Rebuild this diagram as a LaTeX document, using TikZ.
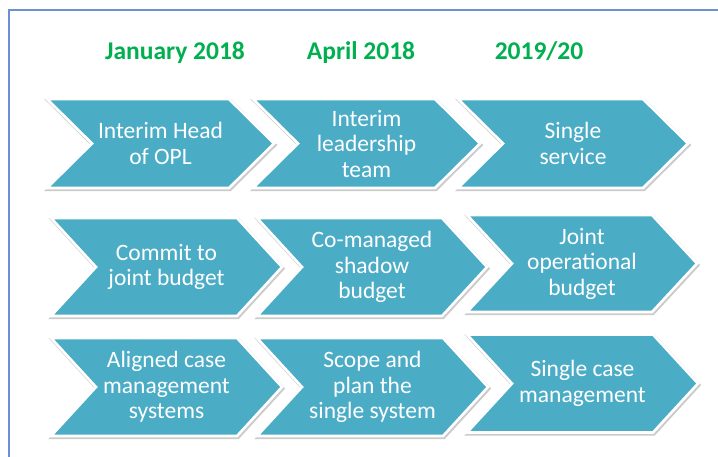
\documentclass[tikz,border=0pt]{standalone}
\usepackage{fontspec}
\newfontfamily\calfont{Carlito}
\definecolor{chevblue}{HTML}{4BACC6}
\definecolor{yeargreen}{HTML}{00B050}
\definecolor{framebl}{HTML}{6C91D2}
\tikzset{
  chevbox/.style={fill=chevblue, draw=white, line width=2.6pt, line join=miter},
  chevshadow/.style={draw=black!45, line width=3.2pt, opacity=0.45, line join=miter},
  chevtext/.style={text=white, align=center, inner sep=0pt,
    font=\calfont\fontsize{23.5}{25.5}\selectfont},
  yeartext/.style={text=yeargreen, inner sep=0pt, anchor=base,
    font=\calfont\bfseries\fontsize{25.5}{28}\selectfont}
}
% name, left x, middle y, width, half height, text
\newcommand{\chev}[6]{
\draw[chevshadow] (#2+1,#3-#5+1.5) -- ++(#4-45,0) -- ++(45,#5) -- ++(-45,#5)
  -- ++(-#4+45,0) -- ++(45,-#5) -- cycle;
\draw[chevbox] (#2,#3-#5) -- ++(#4-45,0) -- ++(45,#5) -- ++(-45,#5)
  -- ++(-#4+45,0) -- ++(45,-#5) -- cycle;
\node[chevtext] (#1) at (#2+#4/2,#3) {#6};
}

\begin{document}
\begin{tikzpicture}[x=1pt,y=-1pt]
\useasboundingbox[fill=white] (0,0) rectangle (718,456);
\draw[framebl, line width=1.3pt] (9,460)--(9,10)--(722,10);

\node[yeartext] (jan) at (175,59) {January 2018};
\node[yeartext] (apr) at (361,59) {April 2018};
\node[yeartext] (fin) at (539,59) {2019/20};

\chev{c11}{47}{143.5}{227}{44.5}{Interim Head\\of OPL}
\chev{c12}{253}{143.5}{227}{44.5}{Interim\\leadership\\team}
\chev{c13}{458}{143.5}{230}{44.5}{Single\\service}

\chev{c21}{51}{267}{231}{49}{Commit to\\joint budget}
\chev{c22}{257}{267}{230}{49}{Co-managed\\shadow\\budget}
\chev{c23}{467}{263.5}{230}{48.5}{Joint\\operational\\budget}

\chev{c31}{51}{387}{231}{49}{Aligned case\\management\\systems}
\chev{c32}{257}{387}{231}{49}{Scope and\\plan the\\single system}
\chev{c33}{467}{383.5}{231}{49}{Single case\\management}
\end{tikzpicture}
\end{document}
